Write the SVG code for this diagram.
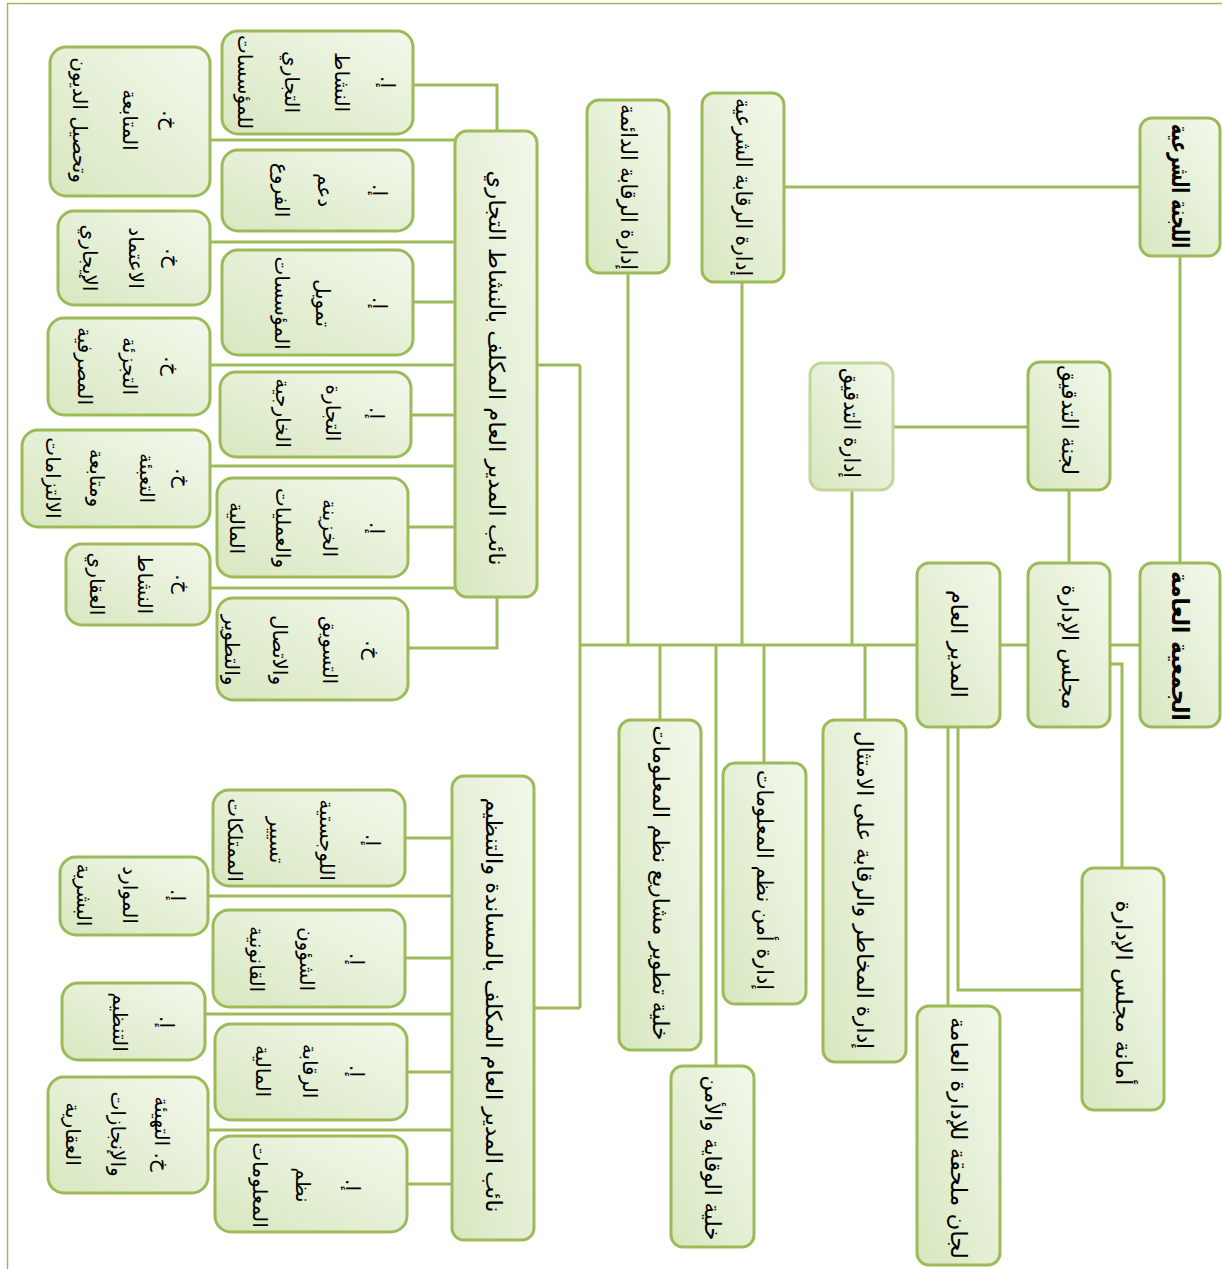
<svg xmlns="http://www.w3.org/2000/svg" width="1222" height="1269" viewBox="0 0 1222 1269">
<defs>
<linearGradient id="g" x1="1" y1="0" x2="0" y2="1">
<stop offset="0" stop-color="#f3f8ec"/>
<stop offset="1" stop-color="#d8e7c0"/>
</linearGradient>
<style>
.b{fill:url(#g);stroke:#9bbb59;stroke-width:3}
.bl{fill:url(#g);stroke:#c3d69b;stroke-width:3}
.c{fill:none;stroke:#9bbb59;stroke-width:3}
.t{font-family:"DejaVu Sans",sans-serif;font-size:20px;fill:#000;text-anchor:middle;dominant-baseline:central;direction:rtl}
.m{font-size:22px}
.tb{font-weight:bold;font-size:24px}
</style>
</defs>
<rect x="7.5" y="3.5" width="1300" height="1300" fill="none" stroke="#9bbb59" stroke-width="1.5"/>
<g id="connectors">
<path class="c" d="M1140,645H1110M1180,256V563M1140,187H784M1069,490V563M1028,427H893M1028,645H1000M1110,664H1122V868M917,645H580M580,365V1008M580,365H537M580,1008H534M628,273V645M742,282V645M852,490V645M660,645V720M716,645V1066M764,645V763M865,645V720M948,727V1006M958,727V990H1082"/>
<path class="c" d="M413,85H497V131M408,648H497V597M210,140H455M210,242H455M413,302H455M210,365H455M411,415H455M210,466H455M408,527H455M210,588H455"/>
<path class="c" d="M405,838H452M208,896H452M405,958H452M205,1014H452M407,1072H452M208,1130H452M407,1184H452"/>
</g>
<g id="n-general-assembly"><rect class="b" x="1140" y="563" width="80" height="164" rx="12"/><text class="t tb" textLength="150" lengthAdjust="spacingAndGlyphs" transform="translate(1180,646) rotate(90)">الجمعية العامة</text></g>
<g id="n-sharia-committee"><rect class="b" x="1140" y="118" width="80" height="138" rx="12"/><text class="t tb" font-size="22" textLength="124" lengthAdjust="spacingAndGlyphs" transform="translate(1180,186) rotate(90)">اللجنة الشرعية</text></g>
<g id="n-board"><rect class="b" x="1028" y="563" width="82" height="164" rx="12"/><text class="t m" textLength="125" lengthAdjust="spacingAndGlyphs" transform="translate(1069,647) rotate(90)">مجلس الإدارة</text></g>
<g id="n-audit-committee"><rect class="b" x="1028" y="362" width="82" height="128" rx="12"/><text class="t m" textLength="110" lengthAdjust="spacingAndGlyphs" transform="translate(1069,420) rotate(90)">لجنة التدقيق</text></g>
<g id="n-audit-dept"><rect class="bl" x="810" y="363" width="83" height="127" rx="12"/><text class="t m" textLength="110" lengthAdjust="spacingAndGlyphs" transform="translate(851,423) rotate(90)">إدارة التدقيق</text></g>
<g id="n-gm"><rect class="b" x="917" y="563" width="83" height="164" rx="12"/><text class="t m" textLength="108" lengthAdjust="spacingAndGlyphs" transform="translate(958,644) rotate(90)">المدير العام</text></g>
<g id="n-sharia-control"><rect class="b" x="702" y="93" width="82" height="189" rx="12"/><text class="t m" textLength="178" lengthAdjust="spacingAndGlyphs" transform="translate(743,187) rotate(90)">إدارة الرقابة الشرعية</text></g>
<g id="n-permanent-control"><rect class="b" x="587" y="100" width="82" height="173" rx="12"/><text class="t m" textLength="166" lengthAdjust="spacingAndGlyphs" transform="translate(628,187) rotate(90)">إدارة الرقابة الدائمة</text></g>
<g id="n-board-secretariat"><rect class="b" x="1082" y="868" width="82" height="242" rx="12"/><text class="t m" textLength="185" lengthAdjust="spacingAndGlyphs" transform="translate(1123,993) rotate(90)">أمانة مجلس الإدارة</text></g>
<g id="n-committees"><rect class="b" x="917" y="1006" width="83" height="259" rx="12"/><text class="t m" textLength="242" lengthAdjust="spacingAndGlyphs" transform="translate(958,1138) rotate(90)">لجان ملحقة للإدارة العامة</text></g>
<g id="n-risk"><rect class="b" x="823" y="720" width="83" height="342" rx="12"/><text class="t m" textLength="318" lengthAdjust="spacingAndGlyphs" transform="translate(864,890) rotate(90)">إدارة المخاطر والرقابة على الامتثال</text></g>
<g id="n-infosec"><rect class="b" x="723" y="763" width="83" height="241" rx="12"/><text class="t m" textLength="220" lengthAdjust="spacingAndGlyphs" transform="translate(764,880) rotate(90)">إدارة أمن نظم المعلومات</text></g>
<g id="n-is-dev"><rect class="b" x="619" y="720" width="82" height="330" rx="12"/><text class="t m" textLength="315" lengthAdjust="spacingAndGlyphs" transform="translate(660,883) rotate(90)">خلية تطوير مشاريع نظم المعلومات</text></g>
<g id="n-safety"><rect class="b" x="671" y="1066" width="83" height="181" rx="12"/><text class="t m" textLength="165" lengthAdjust="spacingAndGlyphs" transform="translate(712,1158) rotate(90)">خلية الوقاية والأمن</text></g>
<g id="n-deputy-commercial"><rect class="b" x="455" y="131" width="82" height="466" rx="12"/><text class="t m" textLength="395" lengthAdjust="spacingAndGlyphs" transform="translate(496,368) rotate(90)">نائب المدير العام المكلف بالنشاط التجاري</text></g>
<g id="n-deputy-support"><rect class="b" x="452" y="776" width="82" height="464" rx="12"/><text class="t m" textLength="415" lengthAdjust="spacingAndGlyphs" transform="translate(493,1005) rotate(90)">نائب المدير العام المكلف بالمساندة والتنظيم</text></g>

<g id="n-a1"><rect class="b" x="222" y="31" width="191" height="103" rx="16"/>
<text class="t" transform="translate(388,82) rotate(90)">إ.</text><text class="t" transform="translate(342,82) rotate(90)">النشاط</text><text class="t" transform="translate(292,82) rotate(90)">التجاري</text><text class="t" transform="translate(245,82) rotate(90)">للمؤسسات</text></g>
<g id="n-b1"><rect class="b" x="50" y="47" width="160" height="149" rx="16"/>
<text class="t" transform="translate(170,120) rotate(90)">خ.</text><text class="t" transform="translate(130,120) rotate(90)">المتابعة</text><text class="t" transform="translate(80,120) rotate(90)">وتحصيل الديون</text></g>
<g id="n-a2"><rect class="b" x="222" y="150" width="191" height="81" rx="16"/>
<text class="t" transform="translate(380,190) rotate(90)">إ.</text><text class="t" transform="translate(325,190) rotate(90)">دعم</text><text class="t" transform="translate(282,190) rotate(90)">الفروع</text></g>
<g id="n-b2"><rect class="b" x="58" y="211" width="152" height="94" rx="16"/>
<text class="t" transform="translate(173,258) rotate(90)">خ.</text><text class="t" transform="translate(136,258) rotate(90)">الاعتماد</text><text class="t" transform="translate(90,258) rotate(90)">الإيجاري</text></g>
<g id="n-a3"><rect class="b" x="222" y="250" width="191" height="105" rx="16"/>
<text class="t" transform="translate(380,303) rotate(90)">إ.</text><text class="t" transform="translate(323,303) rotate(90)">تمويل</text><text class="t" transform="translate(282,303) rotate(90)">المؤسسات</text></g>
<g id="n-b3"><rect class="b" x="48" y="318" width="162" height="97" rx="16"/>
<text class="t" transform="translate(172,366) rotate(90)">خ.</text><text class="t" transform="translate(130,366) rotate(90)">التجزئة</text><text class="t" transform="translate(85,366) rotate(90)">المصرفية</text></g>
<g id="n-a4"><rect class="b" x="220" y="372" width="191" height="85" rx="16"/>
<text class="t" transform="translate(377,413) rotate(90)">إ.</text><text class="t" transform="translate(333,413) rotate(90)">التجارة</text><text class="t" transform="translate(283,413) rotate(90)">الخارجية</text></g>
<g id="n-b4"><rect class="b" x="22" y="430" width="188" height="97" rx="16"/>
<text class="t" transform="translate(183,478) rotate(90)">خ.</text><text class="t" transform="translate(147,478) rotate(90)">التعبئة</text><text class="t" transform="translate(97,478) rotate(90)">ومتابعة</text><text class="t" transform="translate(53,478) rotate(90)">الالتزامات</text></g>
<g id="n-a5"><rect class="b" x="217" y="478" width="191" height="99" rx="16"/>
<text class="t" transform="translate(377,528) rotate(90)">إ.</text><text class="t" transform="translate(330,528) rotate(90)">الخزينة</text><text class="t" transform="translate(283,528) rotate(90)">والعمليات</text><text class="t" transform="translate(237,528) rotate(90)">المالية</text></g>
<g id="n-b5"><rect class="b" x="66" y="544" width="144" height="81" rx="16"/>
<text class="t" transform="translate(183,584) rotate(90)">خ.</text><text class="t" transform="translate(145,584) rotate(90)">النشاط</text><text class="t" transform="translate(97,584) rotate(90)">العقاري</text></g>
<g id="n-a6"><rect class="b" x="217" y="598" width="191" height="102" rx="16"/>
<text class="t" transform="translate(373,650) rotate(90)">خ.</text><text class="t" transform="translate(330,650) rotate(90)">التسويق</text><text class="t" transform="translate(280,650) rotate(90)">والاتصال</text><text class="t" transform="translate(232,650) rotate(90)">والتطوير</text></g>

<g id="n-c1"><rect class="b" x="213" y="790" width="192" height="96" rx="16"/>
<text class="t" transform="translate(373,840) rotate(90)">إ.</text><text class="t" transform="translate(327,840) rotate(90)">اللوجستية</text><text class="t" transform="translate(277,840) rotate(90)">تسيير</text><text class="t" transform="translate(235,840) rotate(90)">الممتلكات</text></g>
<g id="n-d1"><rect class="b" x="60" y="857" width="148" height="78" rx="16"/>
<text class="t" transform="translate(178,895) rotate(90)">إ.</text><text class="t" transform="translate(130,895) rotate(90)">الموارد</text><text class="t" transform="translate(84,895) rotate(90)">البشرية</text></g>
<g id="n-c2"><rect class="b" x="213" y="910" width="192" height="97" rx="16"/>
<text class="t" transform="translate(357,959) rotate(90)">إ.</text><text class="t" transform="translate(307,959) rotate(90)">الشؤون</text><text class="t" transform="translate(257,959) rotate(90)">القانونية</text></g>
<g id="n-d2"><rect class="b" x="62" y="983" width="143" height="77" rx="16"/>
<text class="t" transform="translate(167,1022) rotate(90)">إ.</text><text class="t" transform="translate(120,1022) rotate(90)">التنظيم</text></g>
<g id="n-c3"><rect class="b" x="215" y="1024" width="192" height="96" rx="16"/>
<text class="t" transform="translate(357,1071) rotate(90)">إ.</text><text class="t" transform="translate(310,1071) rotate(90)">الرقابة</text><text class="t" transform="translate(263,1071) rotate(90)">المالية</text></g>
<g id="n-d3"><rect class="b" x="48" y="1077" width="160" height="116" rx="16"/>
<text class="t" transform="translate(162,1134) rotate(90)">خ. التهيئة</text><text class="t" transform="translate(118,1134) rotate(90)">والإنجازات</text><text class="t" transform="translate(73,1134) rotate(90)">العقارية</text></g>
<g id="n-c4"><rect class="b" x="215" y="1136" width="192" height="96" rx="16"/>
<text class="t" transform="translate(353,1185) rotate(90)">إ.</text><text class="t" transform="translate(303,1185) rotate(90)">نظم</text><text class="t" transform="translate(260,1185) rotate(90)">المعلومات</text></g>
</svg>
